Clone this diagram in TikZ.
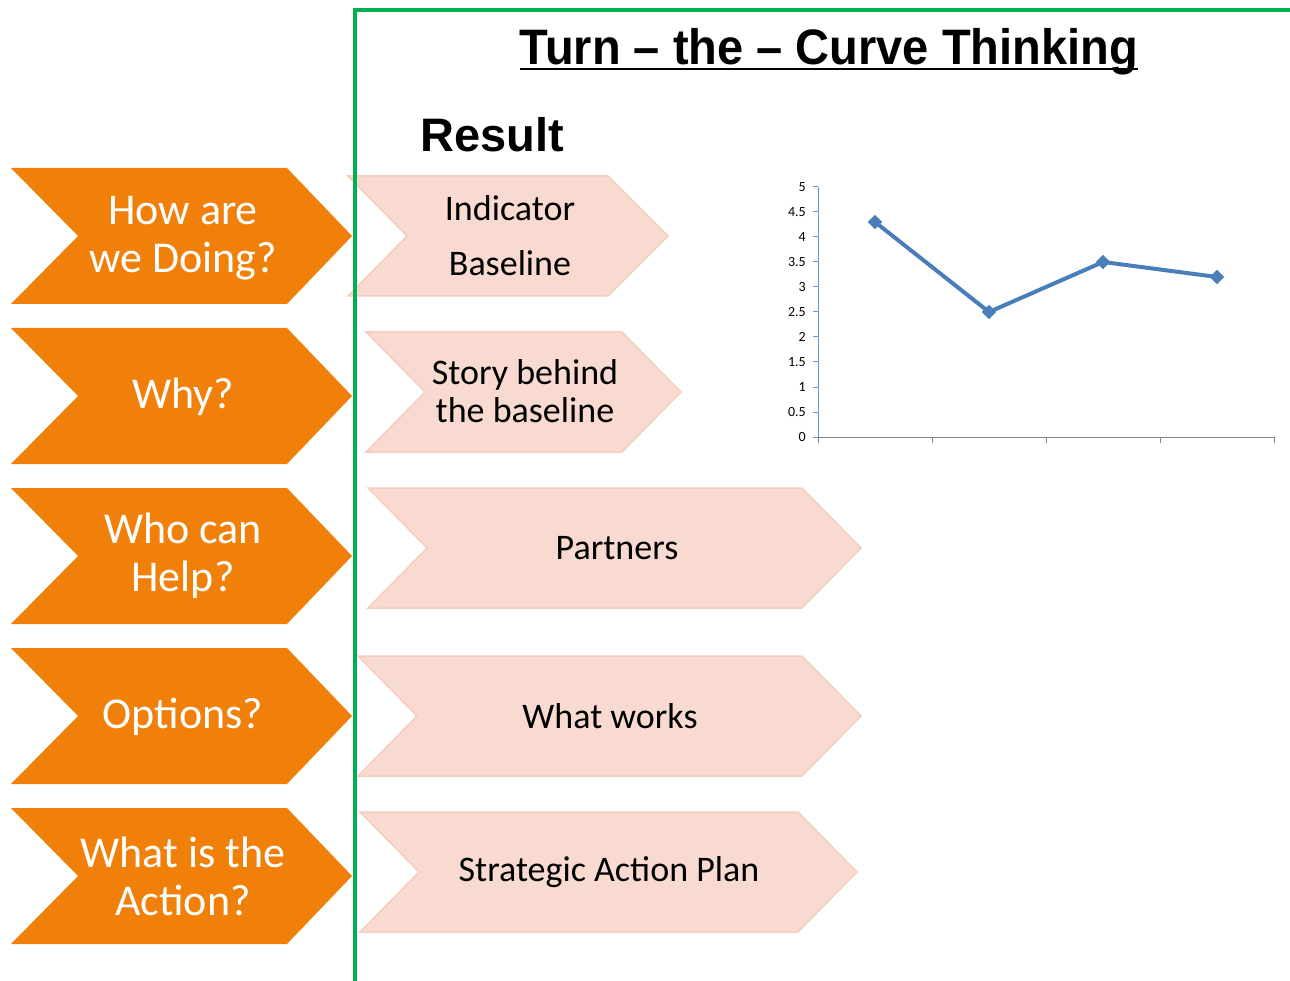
\documentclass[tikz,border=0pt]{standalone}
\usepackage{fontspec}
\setmainfont{Carlito}
\newfontfamily\arialb{Liberation Sans}
\usetikzlibrary{shapes.geometric,calc}
\definecolor{chevorange}{RGB}{240,128,10}
\definecolor{chevpink}{RGB}{248,218,208}
\definecolor{pinkedge}{RGB}{245,206,192}
\definecolor{framegreen}{RGB}{0,176,80}
\definecolor{lineblue}{RGB}{74,126,187}
\definecolor{yaxisblue}{RGB}{91,155,213}
\definecolor{xaxisgrey}{RGB}{134,134,134}
\tikzset{
  orangechev/.style={fill=chevorange, draw=none},
  pinkchev/.style={fill=chevpink, draw=pinkedge, line width=1.5},
  otext/.style={text=white, align=center, inner sep=0, font=\fontsize{44}{48}\selectfont},
  ptext/.style={text=black, align=center, inner sep=0, font=\fontsize{36}{38}\selectfont},
  ylab/.style={anchor=east, inner sep=0, font=\fontsize{14}{14}\selectfont},
  marker/.style={diamond, fill=lineblue, draw=lineblue, inner sep=0, minimum size=14},
}
\begin{document}
\begin{tikzpicture}[x=1pt,y=-1pt]
\useasboundingbox (0,0) rectangle (1290,981);
% orange chevrons
\foreach \t in {168,328,488,648,808}{
  \draw[orangechev] (11,\t) -- (287,\t) -- (352,\t+68) -- (287,\t+136) -- (11,\t+136) -- (78,\t+68) -- cycle;
}
\node[otext] (q1) at (183,238) {How are\\we Doing?};
\node[otext] (q2) at (183,397) {Why?};
\node[otext] (q3) at (183,556) {Who can\\Help?};
\node[otext] (q4) at (183,717) {Options?};
\node[otext] (q5) at (183,876) {What is the\\Action?};
% pink chevrons
\draw[pinkchev] (348,176) -- (608,176) -- (668,236) -- (608,296) -- (348,296) -- (407,236) -- cycle;
\draw[pinkchev] (366,332) -- (622,332) -- (681,392) -- (622,452) -- (366,452) -- (425,392) -- cycle;
\draw[pinkchev] (368,488) -- (802,488) -- (861,548) -- (802,608) -- (368,608) -- (427,548) -- cycle;
\draw[pinkchev] (358,656) -- (802,656) -- (861,716) -- (802,776) -- (358,776) -- (417,716) -- cycle;
\draw[pinkchev] (360,812) -- (798,812) -- (857,872) -- (798,932) -- (360,932) -- (419,872) -- cycle;
\node[ptext, font=\fontsize{36}{55}\selectfont] (r1) at (510,236) {Indicator\\Baseline};
\node[ptext] (r2) at (525,391) {Story behind\\the baseline};
\node[ptext] (r3) at (617,548) {Partners};
\node[ptext] (r4) at (610,716) {What works};
\node[ptext] (r5) at (609,872) {Strategic Action Plan};
% green frame
\draw[framegreen, line width=4] (355,981) -- (355,10) -- (1290,10);
% title
\node[anchor=base, inner sep=0, yscale=1.06, font=\arialb\bfseries\fontsize{47}{47}\selectfont] (title) at (829,65) {Turn – the – Curve Thinking};
\draw[line width=2.5] ($(title.base west)+(0,4)$) -- ($(title.base east)+(0,4)$);
\node[anchor=base west, inner sep=0, font=\arialb\bfseries\fontsize{47}{47}\selectfont] (result) at (420,152) {Result};
% chart
\draw[yaxisblue, line width=1] (818,187) -- (818,437);
\foreach \v/\lab in {0/0,0.5/0.5,1/1,1.5/1.5,2/2,2.5/2.5,3/3,3.5/3.5,4/4,4.5/4.5,5/5}{
  \draw[yaxisblue, line width=1] (813,437-50*\v) -- (818,437-50*\v);
  \node[ylab] at (806,437-50*\v) {\lab};
}
\draw[xaxisgrey, line width=1] (818,437) -- (1274,437);
\foreach \x in {818,932,1046,1160,1274}{
  \draw[xaxisgrey, line width=1] (\x,437) -- (\x,443);
}
\node[marker] (p1) at (875,222) {};
\node[marker] (p2) at (989,312) {};
\node[marker] (p3) at (1103,262) {};
\node[marker] (p4) at (1217,277) {};
\draw[lineblue, line width=4, line join=round] (p1.center) -- (p2.center) -- (p3.center) -- (p4.center);
\end{tikzpicture}
\end{document}
